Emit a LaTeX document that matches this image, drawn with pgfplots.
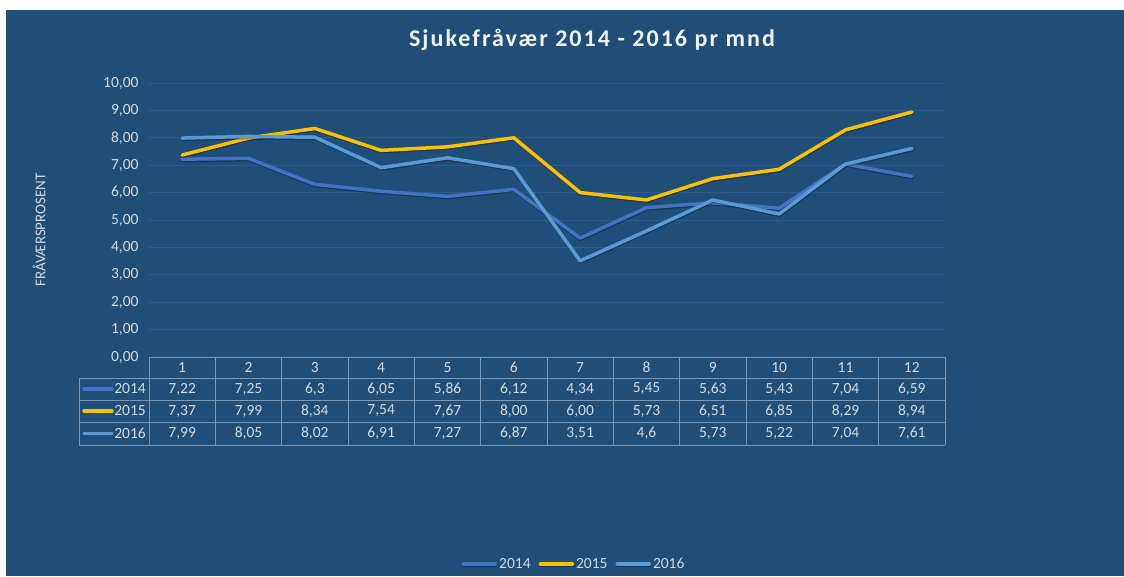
\documentclass[border=0pt]{standalone}
\usepackage{fontspec}
\setmainfont{Carlito}
\usepackage{pgfplots}
\pgfplotsset{compat=1.18}
\definecolor{bg}{HTML}{1F4E79}
\definecolor{c14}{HTML}{4472C4}
\definecolor{c15}{HTML}{FFC000}
\definecolor{c16}{HTML}{5B9BD5}
\definecolor{txt}{HTML}{D9D9D9}
\definecolor{gridc}{HTML}{2D5C88}
\definecolor{tabl}{HTML}{8099B3}
\begin{document}
\begin{tikzpicture}[x=1pt,y=1pt]
\fill[white] (0,0) rectangle (1124,576);
\fill[bg] (6,0) rectangle (1124,566);
\node[font=\fontsize{24}{26}\selectfont\bfseries\addfontfeatures{LetterSpace=8.5}, text=white!95!black] at (592,536) {Sjukefråvær 2014 - 2016 pr mnd};
\node[rotate=90, font=\fontsize{15}{15}\selectfont, text=txt] at (39,346) {FRÅVÆRSPROSENT};
\begin{axis}[
  at={(149pt,219pt)}, anchor=south west,
  scale only axis, width=796pt, height=274pt,
  xmin=0.5, xmax=12.5, ymin=0, ymax=10,
  axis line style={draw=none}, tick style={draw=none},
  xtick=\empty, ytick={0,1,...,10},
  ymajorgrids, grid style={gridc, line width=0.9pt},
  yticklabel style={text=txt, xshift=-7pt, font=\fontsize{15.5}{16}\selectfont, /pgf/number format/.cd, fixed, fixed zerofill, precision=2, use comma, assume math mode=true},
  clip=false,
  legend columns=3,
  legend style={at={(0.534,-0.755)}, anchor=center, draw=none, fill=none, text=txt, font=\fontsize{15.5}{16}\selectfont, /tikz/every even column/.append style={column sep=6pt}},
  legend image code/.code={\draw[#1, line width=3.5pt] (0pt,0pt) -- (32pt,0pt);},
  every axis plot/.append style={line width=3.5pt, line join=round, line cap=round, mark=none,
    preaction={draw=black, opacity=0.3, transform canvas={xshift=0.5pt, yshift=-1.2pt}}},
]
\addplot[c14] coordinates {(1,7.22)(2,7.25)(3,6.3)(4,6.05)(5,5.86)(6,6.12)(7,4.34)(8,5.45)(9,5.63)(10,5.43)(11,7.04)(12,6.59)};
\addlegendentry{2014}
\addplot[c15] coordinates {(1,7.37)(2,7.99)(3,8.34)(4,7.54)(5,7.67)(6,8.00)(7,6.00)(8,5.73)(9,6.51)(10,6.85)(11,8.29)(12,8.94)};
\addlegendentry{2015}
\addplot[c16] coordinates {(1,7.99)(2,8.05)(3,8.02)(4,6.91)(5,7.27)(6,6.87)(7,3.51)(8,4.6)(9,5.73)(10,5.22)(11,7.04)(12,7.61)};
\addlegendentry{2016}
\end{axis}
% data table
\begin{scope}[tabl, line width=0.8pt]
\draw (149,219) -- (945,219);
\foreach \yy in {198,176,154,131} {\draw (79,\yy) -- (945,\yy);}
\draw (79,198) -- (79,131);
\foreach \k in {0,...,12} {\draw ({149+796/12*\k},219) -- ({149+796/12*\k},131);}
\end{scope}
\begin{scope}[every node/.style={text=txt, font=\fontsize{15.5}{16}\selectfont, inner sep=0pt}]
\foreach \k in {1,...,12} {\node at ({149+796/12*(\k-0.5)},208.5) {\k};}
\foreach \v [count=\k] in {{7,22},{7,25},{6,3},{6,05},{5,86},{6,12},{4,34},{5,45},{5,63},{5,43},{7,04},{6,59}} {\node at ({149+796/12*(\k-0.5)},187) {\v};}
\foreach \v [count=\k] in {{7,37},{7,99},{8,34},{7,54},{7,67},{8,00},{6,00},{5,73},{6,51},{6,85},{8,29},{8,94}} {\node at ({149+796/12*(\k-0.5)},165) {\v};}
\foreach \v [count=\k] in {{7,99},{8,05},{8,02},{6,91},{7,27},{6,87},{3,51},{4,6},{5,73},{5,22},{7,04},{7,61}} {\node at ({149+796/12*(\k-0.5)},142.5) {\v};}
\draw[c14, line width=3.5pt, line cap=round] (84,187) -- (112,187);
\draw[c15, line width=3.5pt, line cap=round] (84,165) -- (112,165);
\draw[c16, line width=3.5pt, line cap=round] (84,142.5) -- (112,142.5);
\node[anchor=east] at (146,187) {2014};
\node[anchor=east] at (146,165) {2015};
\node[anchor=east] at (146,142.5) {2016};
\end{scope}
\pgfresetboundingbox
\path (0,0) rectangle (1124,576);
\end{tikzpicture}
\end{document}
